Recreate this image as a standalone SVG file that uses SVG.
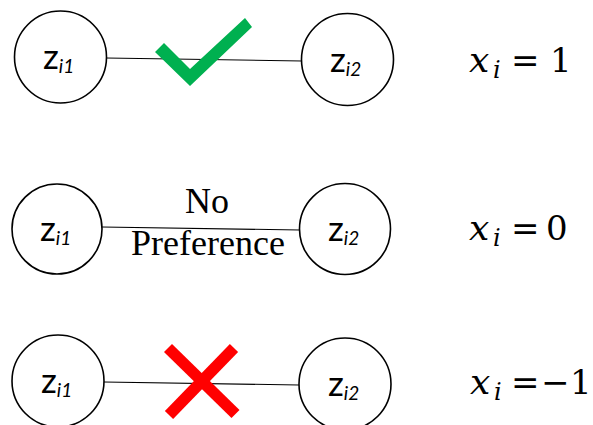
<svg xmlns="http://www.w3.org/2000/svg" width="593" height="425" viewBox="0 0 593 425">
<style>
.node{fill:#fff;stroke:#000;stroke-width:1.6}
.edge{stroke:#000;stroke-width:1.1;fill:none}
.lbl{font-family:Lato,"Open Sans",sans-serif;font-size:35px;fill:#000}
.sub{font-size:19px;font-style:italic}
.math{font-family:"DejaVu Serif",serif;font-size:34px;fill:#000}
.it{font-style:italic}
.np{font-family:"Liberation Serif",serif;font-size:36px;fill:#000;text-anchor:middle}
</style>
<rect width="593" height="425" fill="#fff"/>
<g id="connectors">
<line class="edge" x1="106" y1="58" x2="302" y2="61"/>
<line class="edge" x1="102" y1="227" x2="300" y2="230"/>
<line class="edge" x1="104" y1="382" x2="299" y2="385"/>
</g>
<g id="r1-left"><circle class="node" cx="60.5" cy="57" r="46"/><text class="lbl" x="43" y="69">z<tspan class="sub" dy="4">i1</tspan></text></g>
<g id="r1-right"><circle class="node" cx="347.5" cy="59.5" r="46"/><text class="lbl" x="330" y="72">z<tspan class="sub" dy="4">i2</tspan></text></g>
<g id="r2-left"><circle class="node" cx="57" cy="229" r="45"/><text class="lbl" x="40" y="241">z<tspan class="sub" dy="4">i1</tspan></text></g>
<g id="r2-right"><circle class="node" cx="345" cy="229" r="45.5"/><text class="lbl" x="328" y="241">z<tspan class="sub" dy="4">i2</tspan></text></g>
<g id="r3-left"><circle class="node" cx="58" cy="381" r="46"/><text class="lbl" x="41" y="393">z<tspan class="sub" dy="4">i1</tspan></text></g>
<g id="r3-right"><circle class="node" cx="345" cy="384" r="46"/><text class="lbl" x="328" y="396">z<tspan class="sub" dy="4">i2</tspan></text></g>
<g id="check"><polygon points="155,52 164,43 190,69 245,18 252,27 190,86" fill="#00B050"/></g>
<g id="no-pref"><text class="np" x="207" y="213">No</text><text class="np" x="208" y="255">Preference</text></g>
<g id="cross" stroke="#FF0000" stroke-width="11.5">
<line x1="168" y1="348" x2="235.5" y2="414"/>
<line x1="234" y1="348" x2="169" y2="415"/>
</g>
<g id="eq1"><text class="math"><tspan class="it" x="469" y="72" font-size="36">x</tspan><tspan class="it" x="493" y="78" font-size="24">i</tspan><tspan x="511" y="72">=</tspan><tspan x="550" y="72">1</tspan></text></g>
<g id="eq2"><text class="math"><tspan class="it" x="469" y="240" font-size="36">x</tspan><tspan class="it" x="493" y="246" font-size="24">i</tspan><tspan x="511" y="240">=</tspan><tspan x="546" y="240">0</tspan></text></g>
<g id="eq3"><text class="math"><tspan class="it" x="470" y="394" font-size="36">x</tspan><tspan class="it" x="494" y="400" font-size="24">i</tspan><tspan x="511" y="394">=</tspan><tspan x="541" y="394">−</tspan><tspan x="570" y="394">1</tspan></text></g>
</svg>
